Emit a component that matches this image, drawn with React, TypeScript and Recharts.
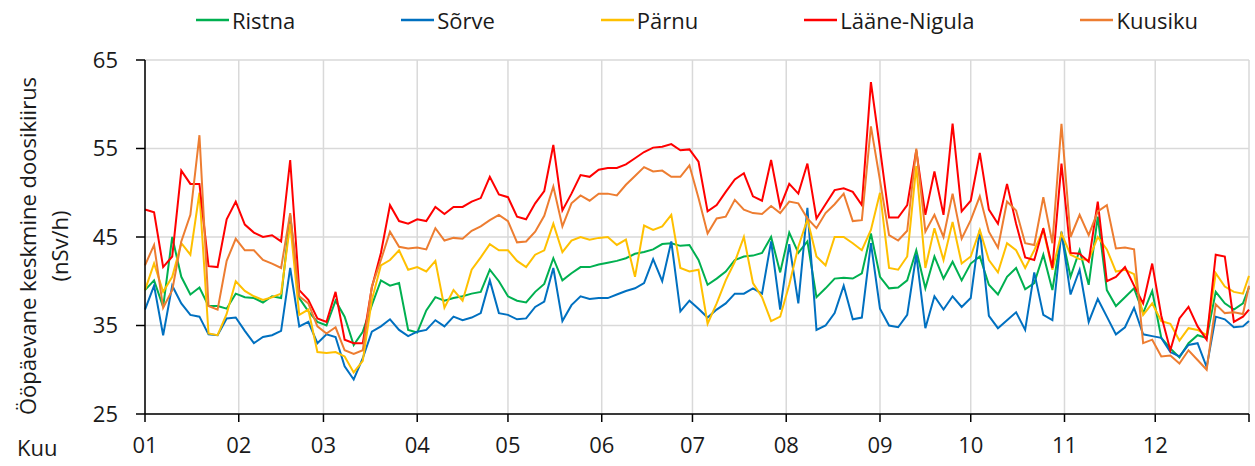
import React from 'react';
import { LineChart, Line, XAxis, YAxis, CartesianGrid, Label } from 'recharts';

// day of year (0 = 1 Jan)
const days = [
  0, 3, 6, 9, 12, 15, 18, 21, 24, 27,
  30, 33, 36, 39, 42, 45, 48, 51, 54, 57,
  60, 63, 66, 69, 72, 75, 78, 81, 84, 87,
  90, 93, 96, 99, 102, 105, 108, 111, 114, 117,
  120, 123, 126, 129, 132, 135, 138, 141, 144, 147,
  150, 153, 156, 159, 162, 165, 168, 171, 174, 177,
  180, 183, 186, 189, 192, 195, 198, 201, 204, 207,
  210, 213, 216, 219, 222, 225, 228, 231, 234, 237,
  240, 243, 246, 249, 252, 255, 258, 261, 264, 267,
  270, 273, 276, 279, 282, 285, 288, 291, 294, 297,
  300, 303, 306, 309, 312, 315, 318, 321, 324, 327,
  330, 333, 336, 339, 342, 345, 348, 351, 354, 357,
  360, 363, 365,
];

const ristna = [
  39.0, 40.1, 37.1, 45.0, 40.5, 38.5, 39.3, 37.2, 37.2, 36.9,
  38.6, 38.2, 38.1, 37.6, 38.3, 38.1, 47.5, 38.1, 36.6, 35.4,
  35.0, 37.8, 36.0, 32.8, 34.3, 37.3, 40.1, 39.5, 39.8, 34.5,
  34.2, 36.7, 38.2, 37.8, 38.1, 38.3, 38.6, 38.8, 41.3, 40.0,
  38.3, 37.8, 37.6, 38.8, 39.7, 42.6, 40.1, 40.9, 41.6, 41.6,
  41.9, 42.1, 42.3, 42.6, 43.1, 43.3, 43.6, 44.2, 44.3, 44.0,
  44.1, 42.4, 39.6, 40.3, 41.1, 42.4, 42.8, 42.9, 43.2, 45.0,
  41.0, 45.5, 43.2, 44.5, 38.2, 39.2, 40.3, 40.4, 40.3, 40.9,
  45.4, 40.5, 39.2, 39.3, 40.1, 43.5, 39.2, 42.8, 40.3, 42.2,
  40.1, 42.0, 42.8, 39.6, 38.5, 40.5, 41.5, 39.1, 39.8, 43.0,
  39.0, 45.4, 40.5, 43.5, 39.6, 47.3, 39.0, 37.2, 38.2, 39.2,
  36.4, 38.9, 33.6, 32.4, 31.4, 33.0, 33.9, 33.6, 38.8, 37.5,
  36.8, 37.5, 39.3,
];

const sorve = [
  36.8, 39.5, 33.9, 39.5, 37.5, 36.2, 36.0, 34.0, 33.9, 35.8,
  35.9, 34.4, 33.0, 33.7, 33.9, 34.4, 41.5, 34.9, 35.4, 33.0,
  34.0, 33.7, 30.4, 28.9, 31.3, 34.3, 34.9, 35.7, 34.5, 33.8,
  34.3, 34.5, 35.6, 34.9, 36.0, 35.6, 35.9, 36.4, 40.1, 36.4,
  36.2, 35.7, 35.8, 37.1, 37.7, 41.5, 35.5, 37.3, 38.3, 38.0,
  38.1, 38.1, 38.5, 38.9, 39.2, 39.8, 42.5, 40.0, 44.5, 36.6,
  37.8, 36.9, 35.9, 36.8, 37.5, 38.6, 38.6, 39.2, 38.6, 44.5,
  36.8, 44.2, 37.5, 48.3, 34.5, 35.0, 36.4, 39.5, 35.7, 35.9,
  44.3, 36.9, 35.0, 34.8, 36.2, 43.0, 34.7, 38.3, 36.8, 38.3,
  37.1, 38.1, 45.8, 36.1, 34.7, 35.6, 36.5, 34.5, 41.0, 36.2,
  35.6, 45.6, 38.5, 41.3, 35.4, 38.0, 36.0, 34.0, 34.8, 37.0,
  34.0, 33.8, 33.6, 32.0, 31.5, 32.8, 33.0, 30.3, 36.0, 35.7,
  34.8, 34.9, 35.5,
];

const parnu = [
  39.0, 42.0, 38.8, 40.5, 44.3, 43.0, 50.0, 34.1, 33.9, 36.3,
  40.0, 38.9, 38.3, 37.9, 38.2, 38.6, 46.5, 36.2, 36.8, 32.0,
  31.9, 32.0, 31.5, 29.7, 31.0, 37.9, 41.8, 42.4, 43.5, 41.3,
  41.6, 41.1, 42.3, 37.0, 39.0, 37.8, 41.3, 42.7, 44.2, 43.5,
  43.5, 42.3, 41.6, 43.0, 43.5, 46.5, 43.3, 44.6, 45.0, 44.7,
  44.9, 45.0, 44.1, 44.7, 40.5, 46.3, 45.8, 46.2, 47.5, 41.5,
  41.1, 41.3, 35.2, 37.5, 40.1, 42.2, 45.0, 39.8, 38.2, 35.5,
  36.0, 39.6, 43.9, 47.0, 42.8, 41.8, 45.0, 45.0, 44.3, 43.5,
  45.8, 50.0, 41.5, 41.3, 42.8, 53.0, 41.5, 46.0, 42.4, 46.7,
  42.0, 42.8, 45.8, 42.4, 41.0, 44.3, 43.5, 41.5, 43.5, 45.8,
  41.3, 45.4, 43.0, 42.5, 42.4, 45.0, 43.6, 41.1, 41.3, 40.8,
  36.2, 37.5, 35.5, 35.2, 33.3, 34.7, 34.5, 33.9, 40.9, 39.4,
  38.8, 38.6, 40.6,
];

const laaneNigula = [
  48.1, 47.8, 41.6, 42.8, 52.5, 51.0, 51.0, 41.7, 41.6, 47.0,
  49.0, 46.4, 45.5, 45.0, 45.2, 44.5, 53.7, 39.0, 37.9, 35.8,
  35.4, 38.8, 33.4, 33.0, 33.0, 39.3, 43.2, 48.6, 46.8, 46.5,
  47.0, 46.8, 48.4, 47.6, 48.4, 48.4, 49.0, 49.4, 51.8, 49.8,
  49.5, 47.3, 47.0, 48.8, 50.2, 55.4, 48.0, 49.9, 52.0, 51.8,
  52.6, 52.8, 52.8, 53.2, 53.9, 54.6, 55.1, 55.2, 55.5, 54.8,
  54.9, 53.5, 47.9, 48.6, 50.1, 51.5, 52.2, 49.6, 49.1, 53.7,
  48.4, 51.0, 49.9, 53.3, 47.1, 48.7, 50.3, 50.5, 50.1, 48.6,
  62.5, 55.0, 47.2, 47.2, 48.6, 54.8, 47.5, 52.4, 47.5, 57.8,
  47.9, 49.1, 54.5, 48.1, 46.5, 51.0, 46.5, 42.7, 42.4, 46.0,
  41.5, 53.3, 43.2, 43.1, 42.2, 49.0, 40.0, 40.5, 41.6, 39.5,
  37.5, 42.0, 36.1, 32.2, 35.8, 37.1, 34.9, 33.4, 43.0, 42.8,
  35.4, 36.0, 36.8,
];

const kuusiku = [
  41.8, 44.1, 37.0, 39.0, 44.5, 47.5, 56.5, 37.2, 36.8, 42.3,
  44.8, 43.5, 43.5, 42.4, 42.0, 41.5, 47.7, 38.3, 37.5, 34.9,
  34.1, 34.8, 32.2, 31.8, 32.2, 39.4, 42.4, 45.6, 43.9, 43.7,
  43.8, 43.6, 46.0, 44.6, 44.9, 44.8, 45.7, 46.2, 46.9, 47.5,
  46.8, 44.4, 44.5, 45.6, 47.4, 50.7, 46.2, 48.8, 49.7, 49.1,
  49.9, 49.9, 49.7, 50.9, 51.9, 52.9, 52.4, 52.5, 51.8, 51.8,
  53.1, 49.4, 45.4, 47.1, 47.3, 49.2, 48.1, 47.7, 47.6, 48.5,
  47.7, 49.0, 48.8, 47.1, 46.0, 47.7, 48.7, 49.9, 46.8, 46.9,
  57.5, 51.4, 45.2, 44.6, 45.7, 55.0, 45.6, 47.5, 45.0, 49.9,
  44.8, 46.9, 49.6, 45.6, 43.8, 49.0, 48.0, 44.3, 44.1, 49.5,
  44.3, 57.8, 45.0, 47.5, 45.2, 47.9, 48.6, 43.7, 43.8, 43.6,
  33.0, 33.4, 31.5, 31.6, 30.7, 32.2, 31.1, 30.0, 37.4, 36.4,
  36.5, 36.3, 39.5,
];

const series = [
  { key: 'ristna', name: 'Ristna', color: '#00B050', values: ristna },
  { key: 'sorve', name: 'Sõrve', color: '#0070C0', values: sorve },
  { key: 'parnu', name: 'Pärnu', color: '#FFC000', values: parnu },
  { key: 'laane', name: 'Lääne-Nigula', color: '#FF0000', values: laaneNigula },
  { key: 'kuusiku', name: 'Kuusiku', color: '#ED7D31', values: kuusiku },
];

const monthTicks = [0, 31, 59, 90, 120, 151, 181, 212, 243, 273, 304, 334, 365];
const monthLabels = ['01', '02', '03', '04', '05', '06', '07', '08', '09', '10', '11', '12', ''];
const yTicks = [25, 35, 45, 55, 65];

const data = days.map((day, i) => {
  const row: any = { day };
  series.forEach((s) => {
    row[s.key] = s.values[i];
  });
  return row;
});

const FONT = '"Open Sans", sans-serif';
const TEXT = '#1a1a1a';

const YTitle = (props: any) => {
  const { viewBox } = props;
  const cy = viewBox.y + viewBox.height / 2 + 9;
  return (
    <g fontFamily={FONT} fontSize={22} fill={TEXT}>
      <text x={27} y={cy} transform={`rotate(-90 27 ${cy})`} textAnchor="middle" dominantBaseline="central">
        Ööpäevane keskmine doosikiirus
      </text>
      <text x={59} y={cy} transform={`rotate(-90 59 ${cy})`} textAnchor="middle" dominantBaseline="central">
        (nSv/h)
      </text>
    </g>
  );
};

const KuuLabel = (props: any) => {
  const { viewBox } = props;
  return (
    <text x={17} y={viewBox.y + 33} dominantBaseline="central" fontFamily={FONT} fontSize={22} fill={TEXT}>
      Kuu
    </text>
  );
};

const ChartLegend = () => (
  <div
    style={{
      position: 'absolute',
      top: 5,
      left: 145,
      width: 1104,
      display: 'flex',
      justifyContent: 'center',
      gap: 106,
      fontFamily: FONT,
      fontSize: 22,
      color: TEXT,
      lineHeight: '30px',
    }}
  >
    {series.map((s) => (
      <div key={s.key} style={{ display: 'flex', alignItems: 'center' }}>
        <svg width={33} height={4} style={{ marginRight: 3 }}>
          <line x1={0} y1={2} x2={33} y2={2} stroke={s.color} strokeWidth={2.5} />
        </svg>
        <span>{s.name}</span>
      </div>
    ))}
  </div>
);

export default function App() {
  return (
    <div style={{ position: 'relative', width: 1255, height: 466, background: '#fff' }}>
      <style>{'body{margin:0}'}</style>
      <LineChart width={1255} height={466} data={data} margin={{ top: 60, right: 6, bottom: 0, left: 0 }}>
        <CartesianGrid stroke="#D9D9D9" strokeWidth={1.5} />
        <XAxis
          dataKey="day"
          type="number"
          domain={[0, 365]}
          ticks={monthTicks}
          interval={0}
          tickFormatter={(v: number) => monthLabels[monthTicks.indexOf(v)]}
          height={52}
          tickSize={8}
          tickMargin={15}
          axisLine={{ stroke: '#000', strokeWidth: 1.5 }}
          tickLine={{ stroke: '#000', strokeWidth: 1.5 }}
          tick={{ fontFamily: FONT, fontSize: 22, fill: TEXT }}
        >
          <Label content={KuuLabel} />
        </XAxis>
        <YAxis
          type="number"
          domain={[25, 65]}
          ticks={yTicks}
          interval={0}
          width={145}
          tickSize={9}
          tickMargin={18}
          axisLine={{ stroke: '#000', strokeWidth: 1.5 }}
          tickLine={{ stroke: '#000', strokeWidth: 1.5 }}
          tick={{ fontFamily: FONT, fontSize: 22, fill: TEXT }}
        >
          <Label content={YTitle} />
        </YAxis>
        {series.map((s) => (
          <Line
            key={s.key}
            type="linear"
            dataKey={s.key}
            name={s.name}
            stroke={s.color}
            strokeWidth={2}
            dot={false}
            isAnimationActive={false}
          />
        ))}
      </LineChart>
      <ChartLegend />
    </div>
  );
}
